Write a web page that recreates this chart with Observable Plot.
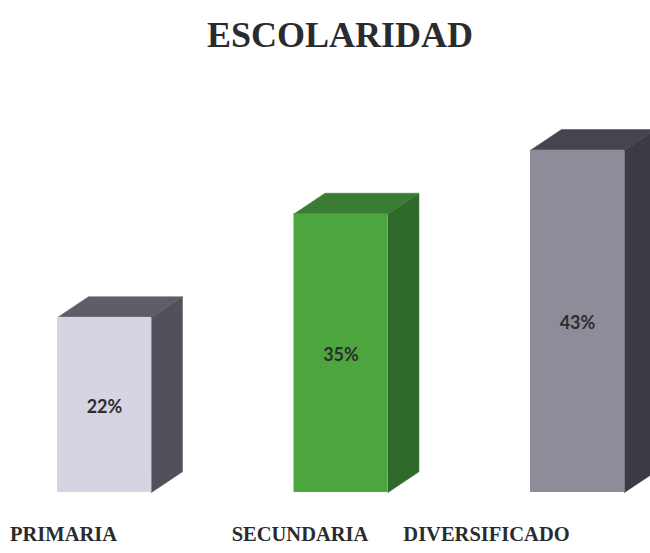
<!DOCTYPE html>
<html>
<head>
<meta charset="utf-8">
<script src="https://cdn.jsdelivr.net/npm/d3@7"></script>
<script src="https://cdn.jsdelivr.net/npm/@observablehq/plot@0.6"></script>
<style>
  html, body { margin: 0; padding: 0; background: #ffffff; }
  #wrap { width: 650px; height: 553px; overflow: hidden; position: relative; }
  #title { height: 70px; line-height: 70px; font-family: "Liberation Serif", "DejaVu Serif", serif; font-weight: bold; font-size: 36px; color: #2b2b2d; text-align: center; padding-left: 30px; box-sizing: border-box; width: 650px; }
  svg { display: block; }
</style>
</head>
<body>
<div id="wrap">
  <div id="title">ESCOLARIDAD</div>
  <div id="chart"></div>
</div>
<script>
const categories = ["PRIMARIA", "SECUNDARIA", "DIVERSIFICADO"];
const values = [22, 35, 43];
const valueLabels = ["22%", "35%", "43%"];

// styles (not data)
const frontColors = ["#d6d4e3", "#4da63d", "#8e8c99"];
const sideColors  = ["#52515b", "#2f6a2b", "#3c3b43"];
const topColors   = ["#5f5e68", "#3a7c33", "#46454d"];
const HW = 0.1987;   // half width of front face (x units)
const DX = 0.131;    // depth offset in x units
const DY = 2.6;      // depth offset in y units (%)

const rows = categories.map((c, i) => ({i, cat: c, v: values[i], label: valueLabels[i]}));

const fronts = rows.map(r => ({...r, x1: r.i - HW, x2: r.i + HW, y1: 0, y2: r.v, fill: frontColors[r.i]}));
const sides = rows.flatMap(r => [
  {cat: r.cat, x: r.i + HW, y: 0},
  {cat: r.cat, x: r.i + HW + DX, y: DY},
  {cat: r.cat, x: r.i + HW + DX, y: r.v + DY},
  {cat: r.cat, x: r.i + HW, y: r.v}
].map(p => ({...p, fill: sideColors[r.i]})));
const tops = rows.flatMap(r => [
  {cat: r.cat, x: r.i - HW, y: r.v},
  {cat: r.cat, x: r.i - HW + DX, y: r.v + DY},
  {cat: r.cat, x: r.i + HW + DX, y: r.v + DY},
  {cat: r.cat, x: r.i + HW, y: r.v}
].map(p => ({...p, fill: topColors[r.i]})));

const labelShift = [-41, -41, -91];

const chart = Plot.plot({
  width: 650,
  height: 483,
  marginTop: 24,
  marginBottom: 61,
  marginLeft: 0,
  marginRight: 0,
  x: {domain: [-0.4397, 2.3087], axis: null},
  y: {domain: [0, 50], axis: null},
  color: {type: "identity"},
  marks: [
    Plot.line(sides, {x: "x", y: "y", z: "cat", fill: "fill", stroke: "fill", strokeWidth: 0.5, curve: "linear-closed"}),
    Plot.line(tops, {x: "x", y: "y", z: "cat", fill: "fill", stroke: "fill", strokeWidth: 0.5, curve: "linear-closed"}),
    Plot.rect(fronts, {x1: "x1", x2: "x2", y1: "y1", y2: "y2", fill: "fill"}),
    Plot.text(rows, {x: "i", y: d => d.v / 2, text: "label", dy: 2, fill: "#2e2e30", fontFamily: "Lato, 'Open Sans', sans-serif", fontWeight: "bold", fontSize: 18}),
    ...rows.map(r => Plot.text([r], {x: "i", y: 0, text: "cat", dx: labelShift[r.i], dy: 48, lineAnchor: "bottom", fill: "#2b2b2d", fontFamily: "'Liberation Serif', serif", fontWeight: "bold", fontSize: 20.5}))
  ]
});
document.getElementById("chart").appendChild(chart);
</script>
</body>
</html>
